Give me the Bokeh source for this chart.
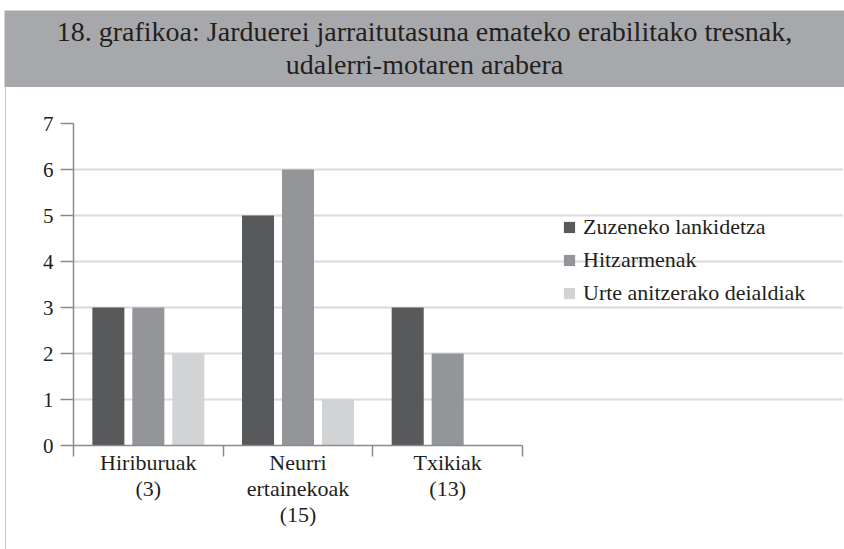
from bokeh.plotting import figure
from bokeh.models import (Range1d, FixedTicker, Legend, LegendItem, ColumnDataSource)
from bokeh.layouts import column, row
from bokeh.embed import file_html
from bokeh.resources import INLINE
from bokeh.core.properties import value

# ---------------- data ----------------
title_lines = ["18. grafikoa: Jarduerei jarraitutasuna emateko erabilitako tresnak,",
               "udalerri-motaren arabera"]
categories = ["Hiriburuak\n(3)", "Neurri\nertainekoak\n(15)", "Txikiak\n(13)"]
series_names = ["Zuzeneko lankidetza", "Hitzarmenak", "Urte anitzerako deialdiak"]
zuzeneko = [3, 5, 3]
hitzarmenak = [3, 6, 2]
urte_anitzerako = [2, 1, 0]
y_ticks = [0, 1, 2, 3, 4, 5, 6, 7]

# ---------------- style ----------------
FONT = "Liberation Serif"
TXT = "#231f20"
GRAY_BOX = "#a7a8ab"
AX = "#8a8a8a"
colors = ["#58595b", "#939598", "#d1d3d4"]

W = 844
H = 549
TH = 87

# ---------------- title figure ----------------
tp = figure(width=W, height=TH, output_backend="svg", toolbar_location=None,
            x_range=Range1d(0, W - 4), y_range=Range1d(TH - 10, 0),
            min_border=0, min_border_top=10, min_border_left=4)
tp.axis.visible = False
tp.grid.visible = False
tp.outline_line_color = None
tp.background_fill_color = GRAY_BOX
tp.border_fill_color = "white"
tsrc = ColumnDataSource(dict(x=[420, 420], y=[21, 54], t=title_lines))
tp.text(x="x", y="y", text="t", source=tsrc, text_font=value(FONT),
        text_font_size="28px", text_align="center", text_baseline="alphabetic",
        text_color=TXT)

# ---------------- main chart ----------------
MH = H - TH
MW = W - 6
LEFT = 67
CAT_PX = 449.0          # pixel width of the three category slots
frame_w = MW - LEFT
x_end = len(categories) * frame_w / CAT_PX
p = figure(width=MW, height=MH, output_backend="svg", toolbar_location=None,
           x_range=Range1d(0, x_end), y_range=Range1d(y_ticks[0], y_ticks[-1]),
           min_border_left=LEFT, min_border_right=0,
           min_border_top=36, min_border_bottom=104,
           styles={"margin-left": "5px", "border-left": "1px solid #c9c9c9"})
p.outline_line_color = None
p.xgrid.visible = False
p.ygrid.grid_line_color = "#dadada"
p.ygrid.grid_line_width = 2
p.ygrid.ticker = FixedTicker(ticks=y_ticks)
p.ygrid.bounds = (0, len(categories))

centers = [i + 0.5 for i in range(len(categories))]
offsets = [-0.267, 0.0, 0.267]
bw = 0.214
renderers = []
for vals, off, col in zip([zuzeneko, hitzarmenak, urte_anitzerako], offsets, colors):
    src = ColumnDataSource(dict(x=[c + off for c in centers], top=vals))
    r = p.vbar(x="x", top="top", width=bw, bottom=0, source=src,
               fill_color=col, line_color=None)
    renderers.append(r)

# y axis
p.yaxis.ticker = FixedTicker(ticks=y_ticks)
p.yaxis.axis_line_color = AX
p.yaxis.axis_line_width = 1.5
p.yaxis.major_tick_line_color = AX
p.yaxis.major_tick_line_width = 1.5
p.yaxis.major_tick_out = 13
p.yaxis.major_tick_in = 0
p.yaxis.minor_tick_line_color = None
p.yaxis.major_label_standoff = 7
p.yaxis.major_label_text_font = FONT
p.yaxis.major_label_text_font_size = "21px"
p.yaxis.major_label_text_color = TXT

# x axis
p.xaxis.bounds = (0, len(categories))
p.xaxis.ticker = FixedTicker(ticks=centers, minor_ticks=list(range(len(categories) + 1)))
p.xaxis.major_label_overrides = {c: lab for c, lab in zip(centers, categories)}
p.xaxis.axis_line_color = AX
p.xaxis.axis_line_width = 1.5
p.xaxis.major_tick_line_color = None
p.xaxis.major_tick_out = 0
p.xaxis.major_tick_in = 0
p.xaxis.minor_tick_line_color = AX
p.xaxis.minor_tick_line_width = 1.5
p.xaxis.minor_tick_out = 11
p.xaxis.minor_tick_in = 0
p.xaxis.major_label_standoff = -7
p.xaxis.major_label_text_font = FONT
p.xaxis.major_label_text_font_size = "22px"
p.xaxis.major_label_text_color = TXT
p.xaxis.major_label_text_line_height = 1.05

legend = Legend(items=[LegendItem(label=n, renderers=[r]) for n, r in zip(series_names, renderers)],
                location=(489, 139), margin=0, padding=0,
                glyph_width=14, glyph_height=14, label_height=24, spacing=7,
                label_standoff=7, label_text_font=FONT, label_text_font_size="22px",
                label_text_color=TXT, border_line_color=None, background_fill_alpha=0)
p.add_layout(legend, "center")

layout = column(tp, row(p), spacing=0)
open("out.html", "w").write(file_html(layout, INLINE))
